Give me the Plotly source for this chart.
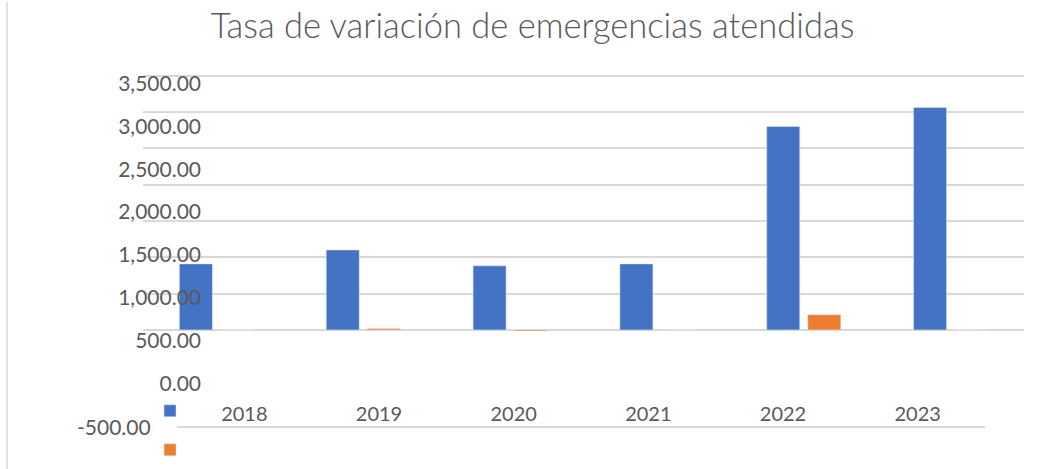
import plotly.graph_objects as go

# ---------------- data ----------------
years = ["2018", "2019", "2020", "2021", "2022", "2023"]
serie_azul = [909, 1101, 882, 909, 2801, 3061]
serie_naranja = [0, 20, -15, 0, 210, 0]
y_tick_vals = [0, 500, 1000, 1500, 2000, 2500, 3000, 3500]
y_tick_text = ["0.00", "500.00", "1,000.00", "1,500.00", "2,000.00",
               "2,500.00", "3,000.00", "3,500.00"]
low_tick_val = -500
low_tick_text = "-500.00"
title_text = "Tasa de variación de emergencias atendidas"

W, H = 1042, 469
TXT = "#595959"
GRID = "#d9d9d9"
FONT = "Lato"


def fx(p):
    return p / W


def fy(p):
    return 1 - p / H


px_per_500 = 36.47
u = 500 / px_per_500
bar_top_px, bar_bot_px = 70, 426
bar_range = [-(bar_bot_px - 329.33) * u, 3500 + (74 - bar_top_px) * u]

t_step = 43.0
t_u = 500 / t_step
txt_range = [-500, -500 + (426 - bar_top_px) * t_u]

fig = go.Figure()
fig.add_trace(go.Bar(x=years, y=serie_azul, name=" ", marker_color="#4472C4",
                     xaxis="x", yaxis="y", legendgroup="a"))
fig.add_trace(go.Bar(x=years, y=serie_naranja, name=" ", marker_color="#ED7D31",
                     xaxis="x", yaxis="y", legendgroup="b"))
fig.add_trace(go.Scatter(x=years, y=[None] * len(years), xaxis="x2", yaxis="y2",
                         mode="markers", showlegend=False, hoverinfo="skip"))

fig.update_layout(
    width=W, height=H,
    margin=dict(l=0, r=0, t=0, b=0),
    paper_bgcolor="white",
    plot_bgcolor="rgba(0,0,0,0)",
    barmode="group",
    bargap=0.441,
    bargroupgap=0.195,
    title=dict(text=title_text, x=532.5 / W, xanchor="center",
               y=fy(26), yanchor="middle",
               font=dict(family=FONT, size=34.5, color=TXT, weight=300)),
    xaxis=dict(domain=[fx(143), fx(1024)], anchor="y", type="category",
               categoryorder="array", categoryarray=years, range=[-0.5, 5.5],
               showticklabels=False, showgrid=False, showline=False,
               zeroline=False, ticks=""),
    yaxis=dict(domain=[fy(bar_bot_px), fy(bar_top_px)], anchor="x",
               range=bar_range, tickmode="array", tickvals=y_tick_vals,
               showticklabels=False, showgrid=True, gridcolor=GRID,
               gridwidth=1.5, zeroline=True, zerolinecolor=GRID,
               zerolinewidth=1.5, showline=False, ticks=""),
    xaxis2=dict(domain=[fx(177), fx(985)], anchor="y2", type="category",
                categoryorder="array", categoryarray=years, range=[-0.5, 5.5],
                showgrid=False, zeroline=False, showline=True,
                linecolor=GRID, linewidth=1.5, ticks="",
                ticklabelposition="inside", ticklabelstandoff=2,
                tickfont=dict(family=FONT, size=20, color=TXT)),
    yaxis2=dict(domain=[fy(bar_bot_px), fy(bar_top_px)], anchor="free",
                position=fx(201), range=txt_range, tickmode="array",
                tickvals=y_tick_vals, ticktext=y_tick_text,
                showgrid=False, zeroline=False, showline=False, ticks="",
                tickfont=dict(family=FONT, size=21, color=TXT)),
    showlegend=True,
    legend=dict(x=fx(150), xanchor="left", y=fy(396), yanchor="top",
                bgcolor="rgba(0,0,0,0)",
                font=dict(family=FONT, size=12, color=TXT),
                tracegroupgap=20, traceorder="grouped"),
    annotations=[dict(text=low_tick_text, xref="paper", x=fx(153), xanchor="right",
                      yref="y2", y=low_tick_val, yanchor="middle", showarrow=False,
                      font=dict(family=FONT, size=21, color=TXT))],
    shapes=[dict(type="line", xref="paper", yref="paper", x0=fx(7), x1=fx(7),
                 y0=0, y1=1, line=dict(color=GRID, width=1.5))],
)

fig.write_html("out.html", post_script="document.body.style.margin='0';",
               config={"displayModeBar": False})
